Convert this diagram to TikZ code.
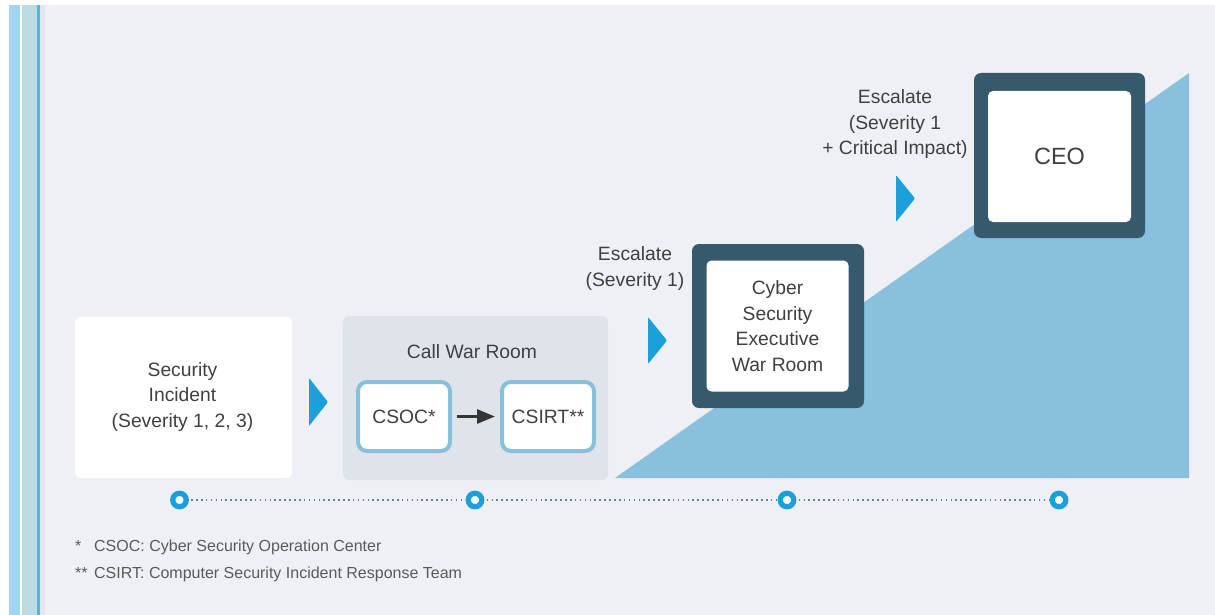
\documentclass[tikz,border=0pt]{standalone}
\usepackage{fontspec}
\setmainfont{Liberation Sans}
\usetikzlibrary{arrows.meta}

\definecolor{panel}{HTML}{EEF0F5}
\definecolor{stripeA}{HTML}{A3D4F1}
\definecolor{stripeB}{HTML}{BBDCE2}
\definecolor{stripeC}{HTML}{58B3E0}
\definecolor{stripeD}{HTML}{E5E6EB}
\definecolor{groupfill}{HTML}{DFE4EA}
\definecolor{lightedge}{HTML}{86C0DC}
\definecolor{darkframe}{HTML}{37596C}
\definecolor{slope}{HTML}{88C0DD}
\definecolor{accent}{HTML}{1BA0DB}
\definecolor{ink}{HTML}{404040}
\definecolor{arrowink}{HTML}{353535}
\definecolor{noteink}{HTML}{5A5A5A}
\definecolor{dotline}{HTML}{5B8597}

\tikzset{
  txt/.style={font=\fontsize{19.3}{25.5}\selectfont, text=ink, align=center, inner sep=0pt},
  whitebox/.style={rectangle, rounded corners=6pt, fill=white, inner sep=0pt, outer sep=0pt},
  groupbox/.style={rectangle, rounded corners=6pt, fill=groupfill, inner sep=0pt, outer sep=0pt},
  subbox/.style={rectangle, rounded corners=9pt, fill=white, draw=lightedge, line width=4pt,
    inner sep=0pt, outer sep=0pt, txt},
  frame/.style={rectangle, rounded corners=7pt, fill=darkframe, inner sep=0pt, outer sep=0pt},
  innerbox/.style={rectangle, rounded corners=5pt, fill=white, inner sep=0pt, outer sep=0pt, txt},
  chevron/.style={fill=accent, rounded corners=1pt},
  tdot/.style={circle, fill=white, draw=accent, line width=5.3pt, minimum size=13.5pt,
    inner sep=0pt, outer sep=0pt},
  dotrule/.style={draw=dotline, line width=1.7pt, dash pattern=on 1.6pt off 3.3pt},
  note/.style={font=\fontsize{16}{18}\selectfont, text=noteink, anchor=base west, inner sep=0pt}
}

\begin{document}
\begin{tikzpicture}[x=1pt, y=-1pt]
\useasboundingbox (0,0) rectangle (1215,615);

% page and side stripes
\fill[white] (0,0) rectangle (1215,615);
\fill[stripeA] (9,5) rectangle (20,615);
\fill[stripeB] (22,5) rectangle (37,615);
\fill[stripeC] (37,5) rectangle (40,615);
\fill[stripeD] (40,5) rectangle (45,615);
\fill[panel] (45,5) rectangle (1215,615);

% rising escalation wedge
\fill[slope] (615,478) -- (1189,478) -- (1189,73) -- cycle;

% stage 1: incident
\node[whitebox, minimum width=217pt, minimum height=161pt] (incidentbox) at (183.5,397.5) {};
\node[txt] (incident) at (182.5,397) {Security\\Incident\\(Severity 1, 2, 3)};

% stage 2: call war room
\node[groupbox, minimum width=265pt, minimum height=164pt] (warroom) at (475.5,398) {};
\node[txt] (warlabel) at (472,352) {Call War Room};
\node[subbox, minimum width=92pt, minimum height=69pt] (csoc) at (404,416.5) {CSOC*};
\node[subbox, minimum width=92pt, minimum height=69pt] (csirt) at (548,416.5) {CSIRT**};
\draw[draw=arrowink, line width=2.8pt, shorten <=7pt, shorten >=7pt,
  -{Triangle[length=18pt, width=14pt]}] (csoc) -- (csirt);

% stage 3: executive war room
\node[txt] (esc1) at (635,268.5) {Escalate\\(Severity 1)};
\node[frame, minimum width=172pt, minimum height=164pt] (cswrframe) at (778,326) {};
\node[innerbox, minimum width=142pt, minimum height=131pt] (cswr) at (777.5,326)
  {Cyber\\Security\\Executive\\War Room};

% stage 4: CEO
\node[txt] (esc2) at (895,124.5) {Escalate\\(Severity 1\\+ Critical Impact)};
\node[frame, minimum width=171pt, minimum height=165pt] (ceoframe) at (1059.5,155.5) {};
\node[innerbox, minimum width=143pt, minimum height=131pt,
  font=\fontsize{23.5}{26}\selectfont] (ceo) at (1059.5,156.5) {CEO};

% direction markers
\path[chevron] (309,378) -- (328,402) -- (309,426) -- cycle;
\path[chevron] (648,317) -- (667,340.5) -- (648,364) -- cycle;
\path[chevron] (896,175) -- (915,198.5) -- (896,222) -- cycle;

% timeline
\node[tdot] (d1) at (179.5,500) {};
\node[tdot] (d2) at (475,500) {};
\node[tdot] (d3) at (787,500) {};
\node[tdot] (d4) at (1059,500) {};
\draw[dotrule] (d1) -- (d2);
\draw[dotrule] (d2) -- (d3);
\draw[dotrule] (d3) -- (d4);

% footnotes
\node[note] (note1) at (75,551.5) {\makebox[19pt][l]{*}CSOC: Cyber Security Operation Center};
\node[note] (note2) at (75,578.5) {\makebox[19pt][l]{**}CSIRT: Computer Security Incident Response Team};
\end{tikzpicture}
\end{document}
